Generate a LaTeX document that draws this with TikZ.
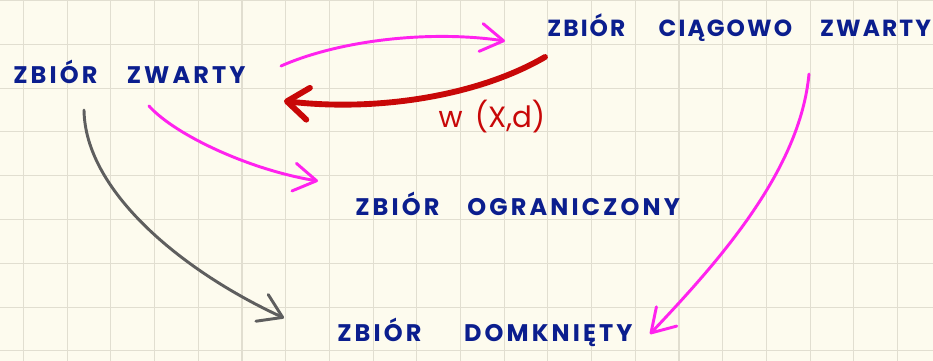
\documentclass[tikz,border=0pt]{standalone}
\usepackage{fontspec}
\setmainfont{Poppins}
\newfontfamily\hand[LetterSpace=13]{Poppins}
\newfontfamily\handnarrow[LetterSpace=9]{Poppins}
\usetikzlibrary{arrows.meta}
\definecolor{paper}{HTML}{FDFBEE}
\definecolor{gridc}{HTML}{E1DED0}
\definecolor{ink}{HTML}{0B1E8E}
\definecolor{pinkc}{HTML}{FF22EE}
\definecolor{redc}{HTML}{C80808}
\definecolor{grayc}{HTML}{5E5E5E}
\begin{document}
\begin{tikzpicture}[x=0.75pt,y=-0.75pt,
  word/.style={font=\hand\bfseries\fontsize{18}{20}\selectfont, text=ink, inner sep=0pt, anchor=west},
  narrowword/.style={word, font=\handnarrow\bfseries\fontsize{17.5}{20}\selectfont},
  redlabel/.style={font=\fontsize{22}{24}\selectfont, text=redc, inner sep=0pt},
  conn/.style={line width=2.2pt, line cap=round, line join=round},
  pinkarrow/.style={conn, draw=pinkc, -{Straight Barb[length=17pt,width=21pt,line cap=round,line join=round]}},
  grayarrow/.style={conn, draw=grayc, -{Straight Barb[length=17pt,width=22pt,line cap=round,line join=round]}},
  redarrow/.style={conn, line width=4.4pt, draw=redc, -{Straight Barb[length=16pt,width=24pt,line cap=round,line join=round]}},
  gridline/.style={draw=gridc, line width=0.8pt}
]
\fill[paper] (0,0) rectangle (933,361);
\useasboundingbox (0,0) rectangle (933,361);
\foreach \i in {0,...,20} {\draw[gridline] ({23.5+43.7*\i},0) -- ({23.5+43.7*\i},361);}
\foreach \j in {0,...,8} {\draw[gridline] (0,{0.5+43.8*\j}) -- (933,{0.5+43.8*\j});}

% labels
\node[word] (zw) at (13,72) {ZBIÓR\hspace{22pt}ZWARTY};
\node[narrowword] (cz) at (547,28) {ZBIÓR\hspace{25pt}CIĄGOWO\hspace{21pt}ZWARTY};
\node[word] (og) at (355,204) {ZBIÓR\hspace{21pt}OGRANICZONY};
\node[word] (dm) at (337,332) {ZBIÓR\hspace{32pt}DOMKNIĘTY};
\node[redlabel] (wx) at (492,117) {w\hspace{9pt}(X,d)};

% connector ends
\coordinate (a1s) at (281,66);  \coordinate (a1e) at (505,41);
\coordinate (a2s) at (545,57);  \coordinate (a2e) at (284,101);
\coordinate (a3s) at (149,106); \coordinate (a3e) at (318,181);
\coordinate (a4s) at (84,110);  \coordinate (a4e) at (284,318);
\coordinate (a5s) at (809,74);  \coordinate (a5e) at (650,334);

\draw[pinkarrow] (a1s) .. controls (340,40) and (430,30) .. (a1e);
\draw[redarrow] (a2s) .. controls (480,95) and (380,112) .. (a2e);
\draw[pinkarrow] (a3s) .. controls (175,135) and (250,170) .. (a3e);
\draw[grayarrow] (a4s) .. controls (85,190) and (180,270) .. (a4e);
\draw[pinkarrow] (a5s) .. controls (800,170) and (720,260) .. (a5e);
\end{tikzpicture}
\end{document}
